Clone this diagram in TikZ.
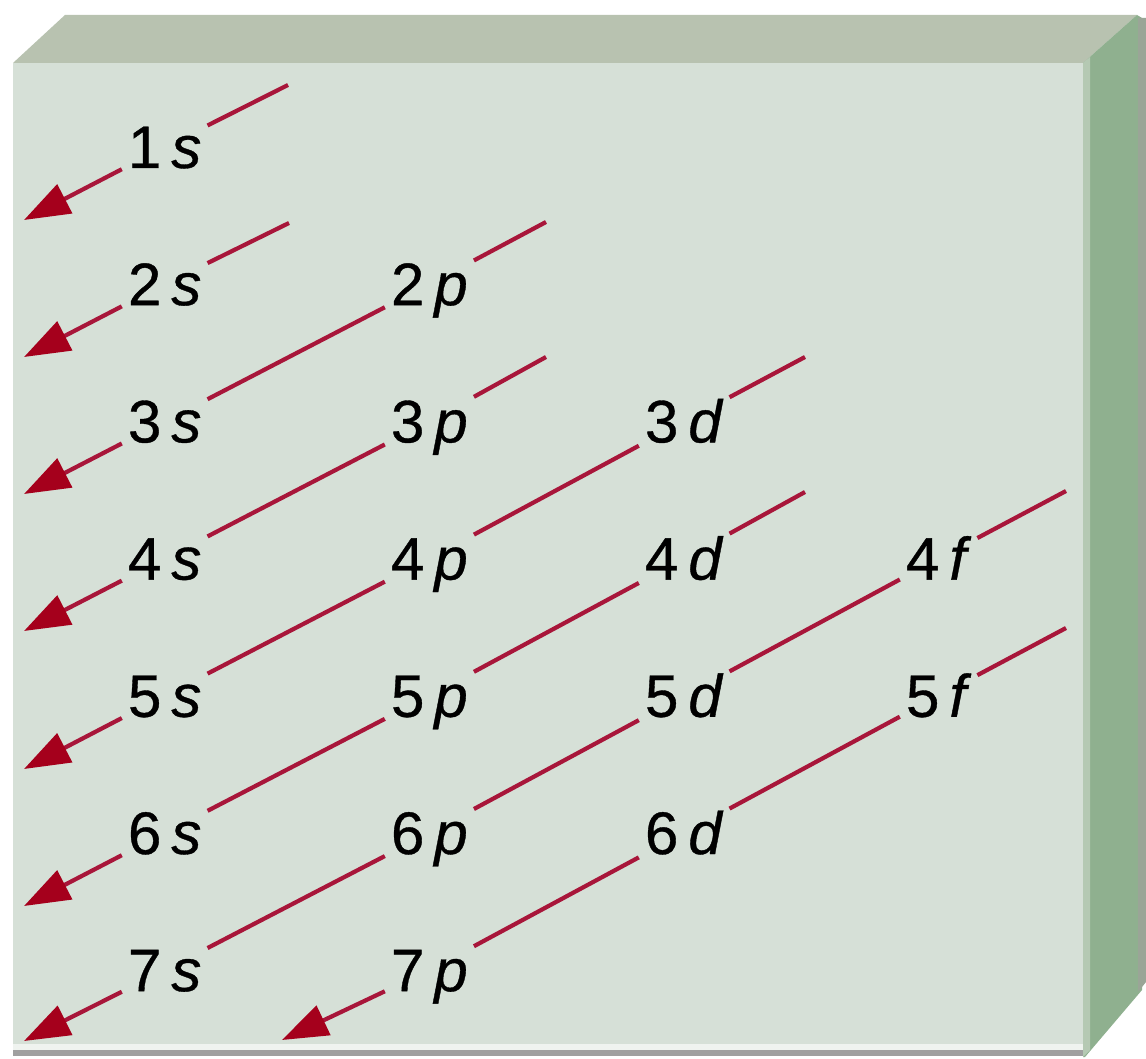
\documentclass[tikz,border=0pt]{standalone}
\usepackage{fontspec}
\setmainfont[FakeBold=0.6]{Liberation Sans}
\usetikzlibrary{arrows.meta}
\definecolor{face}{RGB}{214,224,215}
\definecolor{topf}{RGB}{184,194,176}
\definecolor{side}{RGB}{143,176,143}
\definecolor{sidehl}{RGB}{181,201,179}
\definecolor{sidedk}{RGB}{154,165,151}
\definecolor{shadow}{RGB}{160,160,160}
\definecolor{rline}{RGB}{168,22,58}
\definecolor{rhead}{RGB}{165,0,28}
\tikzset{
  lbl/.style={inner xsep=6pt, inner ysep=6pt, text height=42pt, text depth=0pt,
    font=\fontsize{60}{62}\selectfont, anchor=text},
  seg/.style={draw=rline, line width=4.2pt},
  arr/.style={seg, -{Triangle[length=46pt,width=32pt,color=rhead]}},
}
\newcommand{\orb}[2]{#1\kern10pt\textit{#2}}
\begin{document}
\begin{tikzpicture}[x=1pt,y=-1pt]
\useasboundingbox (0,0) rectangle (1146,1059);
\fill[white] (0,0) rectangle (1146,1059);
% box
\fill[shadow] (13,1046) rectangle (1086,1056);
\fill[face] (13,63) rectangle (1083,1050);
\fill[white!60!face] (13,1044) rectangle (1083,1050);
\fill[topf] (13,63) -- (65,15) -- (1137,15) -- (1083,63) -- cycle;
\fill[side] (1083,63) -- (1137,15) -- (1142,18) -- (1142,990) -- (1085,1057) -- (1083,1057) -- cycle;
\fill[sidehl] (1083,63) -- (1090,57) -- (1090,1050) -- (1083,1057) -- cycle;
\fill[sidedk] (1138,18) -- (1146,18) -- (1146,982) -- (1138,992) -- cycle;

% labels
\node[lbl] (s1) at (128,168) {\orb{1}{s}};
\node[lbl] (s2) at (128,305.2) {\orb{2}{s}};
\node[lbl] (p2) at (391,305.2) {\orb{2}{p}};
\node[lbl] (s3) at (128,442.4) {\orb{3}{s}};
\node[lbl] (p3) at (391,442.4) {\orb{3}{p}};
\node[lbl] (d3) at (645,442.4) {\orb{3}{d}};
\node[lbl] (s4) at (128,579.6) {\orb{4}{s}};
\node[lbl] (p4) at (391,579.6) {\orb{4}{p}};
\node[lbl] (d4) at (645,579.6) {\orb{4}{d}};
\node[lbl] (f4) at (906,579.6) {\orb{4}{f}};
\node[lbl] (s5) at (128,716.8) {\orb{5}{s}};
\node[lbl] (p5) at (391,716.8) {\orb{5}{p}};
\node[lbl] (d5) at (645,716.8) {\orb{5}{d}};
\node[lbl] (f5) at (906,716.8) {\orb{5}{f}};
\node[lbl] (s6) at (128,854) {\orb{6}{s}};
\node[lbl] (p6) at (391,854) {\orb{6}{p}};
\node[lbl] (d6) at (645,854) {\orb{6}{d}};
\node[lbl] (s7) at (128,991.2) {\orb{7}{s}};
\node[lbl] (p7) at (391,991.2) {\orb{7}{p}};

% free ends
\coordinate (e1) at (288,85);
\coordinate (e2) at (289,223);
\coordinate (e3) at (546,222);
\coordinate (e4) at (546,357);
\coordinate (e5) at (805,357);
\coordinate (e6) at (805,492);
\coordinate (e7) at (1066,491);
\coordinate (e8) at (1066,628);
\coordinate (t1) at (24,220);
\coordinate (t2) at (24,357);
\coordinate (t3) at (24,494);
\coordinate (t4) at (24,631);
\coordinate (t5) at (24,769);
\coordinate (t6) at (24,906);
\coordinate (t7) at (24,1041);
\coordinate (t8) at (282,1040);

% diagonals
\draw[seg] (s1) -- (e1); \draw[arr] (s1) -- (t1);
\draw[seg] (s2) -- (e2); \draw[arr] (s2) -- (t2);
\draw[seg] (p2) -- (e3); \draw[seg] (p2) -- (s3); \draw[arr] (s3) -- (t3);
\draw[seg] (p3) -- (e4); \draw[seg] (p3) -- (s4); \draw[arr] (s4) -- (t4);
\draw[seg] (d3) -- (e5); \draw[seg] (d3) -- (p4); \draw[seg] (p4) -- (s5); \draw[arr] (s5) -- (t5);
\draw[seg] (d4) -- (e6); \draw[seg] (d4) -- (p5); \draw[seg] (p5) -- (s6); \draw[arr] (s6) -- (t6);
\draw[seg] (f4) -- (e7); \draw[seg] (f4) -- (d5); \draw[seg] (d5) -- (p6); \draw[seg] (p6) -- (s7); \draw[arr] (s7) -- (t7);
\draw[seg] (f5) -- (e8); \draw[seg] (f5) -- (d6); \draw[seg] (d6) -- (p7); \draw[arr] (p7) -- (t8);
\end{tikzpicture}
\end{document}
